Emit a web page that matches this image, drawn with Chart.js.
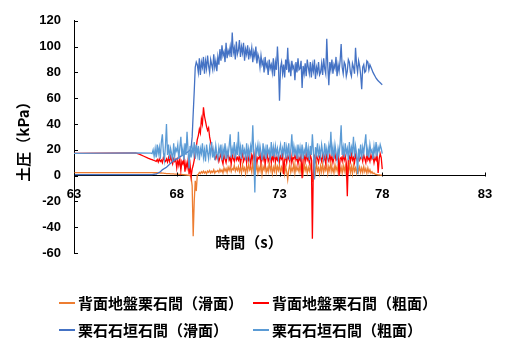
<!DOCTYPE html>
<html>
<head>
<meta charset="utf-8">
<script src="https://cdn.jsdelivr.net/npm/chart.js@4"></script>
<style>
  html, body { margin: 0; padding: 0; background: #fff; }
  #wrap { position: relative; width: 506px; height: 338px; }
  #legend { position: absolute; left: 0; top: 0; width: 506px; height: 338px; pointer-events: none;
            font: bold 15px "Noto Sans CJK JP", sans-serif; color: #000; }
  .item { position: absolute; display: flex; align-items: center; white-space: nowrap; height: 20px; line-height: 20px; }
  .sw { display: inline-block; width: 16px; height: 1.5px; margin-right: 3px; }
</style>
</head>
<body>
<div id="wrap">
  <canvas id="c"></canvas>
  <div id="legend"></div>
</div>
<script>
// Axis ticks and titles
const xTicks = [63, 68, 73, 78, 83];
const yTicks = [-60, -40, -20, 0, 20, 40, 60, 80, 100, 120];
const xTitle = '時間（s）';
const yTitle = '土圧（kPa）';

// Series names
const seriesNames = ['背面地盤栗石間（滑面）', '背面地盤栗石間（粗面）', '栗石石垣石間（滑面）', '栗石石垣石間（粗面）'];

// Quiet record before shaking: [time s], [kPa]
const leadTimeBackSmooth = [63, 66.75];
const leadBackSmooth = [2.3, 2.3];
const leadTimeBackRough = [63, 66.0, 66.2, 66.4, 66.6, 66.75];
const leadBackRough = [17.2, 17.6, 16.5, 15, 13.5, 12.6];
const leadTimeWallSmooth = [63, 66.75];
const leadWallSmooth = [0.8, 0.8];
const leadTimeWallRough = [63, 66.0, 66.75];
const leadWallRough = [17.2, 17.6, 17.4];

// Sampled record, 0.05 s interval from 66.8 s to 78.0 s
const sampleStart = 66.8;
const sampleStep = 0.05;

const backSmooth = [
  2.3, 2.3, 2.2, 2.2,
  2.2, 2.2, 2.1, 2.1, 2.0, 2.0, 1.9, 1.9, 1.8, 1.7, 1.6, 1.6, 1.5, 1.5, 1.4, 1.4, 1.3, 1.3, 1.2, 1.2,
  1.1, 1.1, 1.0, 1.0, 0.9, 0.9, 0.8, 0.7, 0.6, 0.5, 0.4, 0.3, 0.2, 0.0, -1.5, -8, -47, -20, -4, -12,
  0.5, 1.0, 2.5, 1.5, 3.0, 2.0, 3.5, 2.0, 3.0, 1.5, 3.5, 2.5, 4.0, 2.0, 3.5, 2.5, 4.5, 2.0, 3.5, 3.0,
  4.0, 2.5, 5.0, 3.0, 4.5, 2.0, 6.0, 3.5, 5.5, 2.5, 6.5, 4.0, 7.0, 3.0, 5.5, 4.5, 8.0, 3.5, 6.0, 4.0,
  7.0, 3.0, 6.5, 2.0, 8.5, 4.0, 6.0, 1.5, 7.5, 3.5, 9.0, 4.5, 6.5, 2.5, 10.5, 3.0, 7.0, 4.0, 8.0, 2.0,
  6.5, 3.5, 9.0, 1.0, 7.0, 4.5, 8.5, 2.5, 6.0, 3.0, 10.0, 4.0, 7.5, 1.5, 6.5, 3.5, 9.5, 2.5, 7.0, 4.0,
  8.0, 2.0, 6.5, 3.5, 9.0, 1.5, 7.0, 3.0, -3.0, 4.5, 8.5, 2.5, 6.0, 3.5, 10.0, 2.0, 7.5, 4.0, 6.0, 3.0,
  8.5, 2.5, 6.0, 1.5, 9.0, 4.0, 7.0, 2.0, 6.5, 3.5, 8.0, 3.0, -5.0, 4.5, 7.5, 2.0, 9.5, 3.5, 6.0, 1.5,
  7.5, 3.0, 9.0, 2.5, 6.5, 4.0, 8.0, 1.5, 7.0, 3.5, 10.0, 3.0, 6.0, 2.0, 8.5, 4.0, 7.0, 2.5, 9.0, 3.0,
  6.5, 2.0, 8.0, 3.5, 7.5, 0.5, 6.0, 3.0, 9.0, 2.5, 7.0, 1.5, 8.5, 3.5, 6.0, 2.0, 7.5, 3.0, 6.5, 2.5,
  6.0, 2.5, 7.0, 3.0, 5.5, 2.0, 6.0, 2.5, 4.5, 2.0, 3.0, 1.5, 2.0, 1.2, 1.0, 0.8, 0.6, 0.5, 0.4, 0.4,
  0.3
];

const backRough = [
  12.3, 12, 11.7, 11.4,
  11, 12.5, 10.5, 13, 11, 12, 10, 14, 12, 11, 13, 10.5, 14, 11, 15, 12, 9, 13, 11, 12.5,
  6, 12, 8, 13, 4, 11, 9, 13, 3, 10, 6, 12, 1, 8, -1, 5, 8, 12, 18, 22,
  28, 31, 36, 33, 44, 40, 53, 46, 42, 38, 35, 37, 30, 26, 22, 19, 17, 15, 13, 16,
  15, 11, 14, 17, 12, 9, 16, 13, 10, 15, 18, 12, 14, 9, 16, 13, 11, 17, 12, 14,
  12, 16, 9, 14, 17, 11, 13, 15, 10, 17, 12, 14, 9, 16, 13, 18, 11, 15, 10, 14,
  13, 17, 10, 15, 12, 16, 9, 14, 17, 11, 13, 16, 10, 15, 12, 18, 11, 14, 12, 16,
  11, 15, 13, 17, 1, 12, 15, 10, 16, 13, 11, 17, 10, 14, 13, 16, 12, 15, 9, 14,
  12, 16, -2, 13, 15, 11, 17, 12, 14, 10, 16, 13, -49, 12, 15, 11, 16, 13, 10, 15,
  14, 11, 16, 12, 15, 9, 17, 13, 11, 16, 12, 15, 10, 14, 17, 12, 13, 16, 0, 13,
  14, 11, 16, 12, 15, 10, -16, 13, 15, 11, 17, 12, 14, 10, 16, 13, 11, 15, 12, 14,
  15, 11, 16, 13, 10, 17, 12, 14, 11, 16, 13, 15, 10, 14, 12, 16, 2, 13, 17, 14,
  5
];

const wallSmooth = [
  0.8, 0.9, 1.0, 1.1,
  1.2, 1.6, 2.0, 2.5, 3.0, 3.7, 4.5, 5.0, 5.5, 6.0, 6.5, 7.2, 8.0, 8.7, 9.5, 10.2, 11, 11.5, 12, 12.5,
  13, 13.5, 14, 14.5, 15, 15.5, 16, 16.5, 17, 17.5, 18, 18.5, 19, 20, 22, 30, 48, 65, 84, 88,
  86, 80, 91, 78, 88, 84, 92, 79, 89, 83, 93, 85, 80, 90, 86, 82, 94, 84, 89, 81,
  92, 86, 98, 89, 101, 93, 96, 88, 103, 91, 97, 94, 100, 92, 111, 95, 99, 90, 104, 94,
  97, 105, 92, 100, 95, 103, 89, 98, 94, 101, 90, 97, 93, 99, 88, 96, 92, 100, 87, 94,
  91, 84, 93, 86, 89, 80, 92, 84, 87, 78, 90, 83, 86, 80, 91, 77, 88, 82, 100, 85,
  58, 84, 88, 79, 86, 76, 90, 82, 99, 80, 86, 77, 89, 83, 85, 74, 88, 80, 91, 82,
  83, 89, 68, 85, 79, 87, 77, 90, 84, 79, 88, 76, 86, 81, 90, 75, 84, 80, 88, 78,
  80, 87, 78, 91, 83, 79, 106, 85, 70, 88, 82, 90, 79, 86, 83, 92, 77, 86, 81, 89,
  102, 84, 79, 88, 86, 77, 81, 90, 88, 80, 77, 87, 84, 79, 99, 86, 80, 89, 85, 78,
  67, 84, 86, 80, 81, 89, 88, 82, 86, 84, 82, 80, 78.5, 77, 75.5, 74.5, 73.5, 72.7, 72, 71.2,
  70.5
];

const wallRough = [
  17, 20, 15, 21,
  14, 24, 17, 22, 13, 26, 32, 18, 12, 23, 40, 16, 24, 13, 21, 17, 11, 25, 15, 21,
  19, 24, 13, 22, 30, 15, 21, 12, 25, 16, 34, 20, 5.5, 23, 14, 22, 17, 26, 13, 24,
  16, 23, 12, 21, 17, 25, 14, 20, 11, 24, 18, 13, 22, 16, 26, 14, 20, 12, 23, 17,
  13, 22, 17, 24, 12, 21, 16, 25, 13, 20, 15, 23, 32, 14, 21, 17, 26, 13, 22, 16,
  34, 15, 22, 13, 24, 17, 20, 12, 25, 15, 21, 14, 23, 18, 39, 16, -13, 22, 18, 24,
  15, 23, 18, 12, 25, 16, 21, 13, 24, 17, 20, 12, 26, 15, 22, 14, 23, 17, 21, 13,
  20, 24, 14, 21, 17, 26, 13, 22, 16, 25, 12, 20, 32, 15, 23, 17, 21, 13, 24, 16,
  22, 15, 24, 13, 20, 17, 26, 14, 21, 12, 23, 16, 32, 19, -3, 22, 17, 25, 14, 21,
  15, 24, 18, 13, 25, 16, 21, 14, 23, 17, 34, 15, 22, 13, 24, 18, 12, 21, 16, 25,
  39, 16, 22, 14, 25, 17, 21, 12, 26, 15, 22, 18, 30, 14, 23, 17, 1, 21, 15, 24,
  13, 22, 17, 25, 32, 15, 21, 14, 24, 18, 20, 13, 23, 17, 26, 15, 22, 19, 24, 21,
  17
];

const colors = ['#ED7D31', '#FF0000', '#4472C4', '#5B9BD5'];

function toPoints(leadT, leadV, samples) {
  const pts = leadT.map((t, i) => ({ x: t, y: leadV[i] }));
  samples.forEach((v, i) => pts.push({ x: +(sampleStart + i * sampleStep).toFixed(2), y: v }));
  return pts;
}

const seriesData = [
  toPoints(leadTimeBackSmooth, leadBackSmooth, backSmooth),
  toPoints(leadTimeBackRough, leadBackRough, backRough),
  toPoints(leadTimeWallSmooth, leadWallSmooth, wallSmooth),
  toPoints(leadTimeWallRough, leadWallRough, wallRough)
];

// later series sit on top
const drawOrder = [3, 2, 1, 0];

const datasets = seriesData.map((d, i) => ({
  label: seriesNames[i],
  data: d,
  borderColor: colors[i],
  backgroundColor: colors[i],
  borderWidth: 1.3,
  pointRadius: 0,
  showLine: true,
  tension: 0,
  order: drawOrder[i]
}));

// inward tick marks and axis titles
const axisExtras = {
  id: 'axisExtras',
  afterDraw(chart) {
    const { ctx, scales: { x, y }, chartArea } = chart;
    const y0 = Math.round(y.getPixelForValue(0)) + 0.5;
    ctx.save();
    ctx.strokeStyle = '#000';
    ctx.lineWidth = 1;
    ctx.beginPath();
    xTicks.forEach(v => {
      const px = Math.round(x.getPixelForValue(v)) + 0.5;
      ctx.moveTo(px, y0); ctx.lineTo(px, y0 - 4);
    });
    yTicks.forEach(v => {
      const py = Math.round(y.getPixelForValue(v)) + 0.5;
      ctx.moveTo(chartArea.left, py); ctx.lineTo(chartArea.left + 4, py);
    });
    ctx.stroke();

    ctx.fillStyle = '#000';
    ctx.font = 'bold 15px "Noto Sans CJK JP", sans-serif';
    ctx.textAlign = 'center';
    ctx.textBaseline = 'middle';
    ctx.fillText(xTitle, 249, y.getPixelForValue(-52));
    ctx.translate(23, 138);
    ctx.rotate(-Math.PI / 2);
    ctx.fillText(yTitle, 0, 0);
    ctx.restore();
  }
};

const tickFont = { family: '"Liberation Sans", Arial, sans-serif', size: 13, weight: 'bold' };

new Chart(document.getElementById('c'), {
  type: 'scatter',
  data: { datasets },
  options: {
    responsive: true,
    maintainAspectRatio: false,
    animation: false,
    events: [],
    layout: { padding: { left: 0, top: 17, right: 21, bottom: 85 } },
    plugins: { legend: { display: false }, tooltip: { enabled: false } },
    scales: {
      x: {
        type: 'linear',
        min: 63, max: 83,
        position: { y: 0 },
        afterBuildTicks: s => { s.ticks = xTicks.map(v => ({ value: v })); },
        ticks: { color: '#000', font: tickFont, padding: 11, maxRotation: 0, autoSkip: false },
        grid: { display: false, drawTicks: false },
        border: { display: true, color: '#000', width: 1 }
      },
      y: {
        min: -60, max: 120,
        afterBuildTicks: s => { s.ticks = yTicks.map(v => ({ value: v })); },
        afterFit: s => { s.width = 74; },
        ticks: { color: '#000', font: tickFont, padding: 13 },
        grid: { display: false, drawTicks: false },
        border: { display: true, color: '#000', width: 1 }
      }
    }
  },
  plugins: [axisExtras]
});

// legend in two aligned columns
const legendPos = [[59, 293], [253, 293], [59, 320], [253, 320]];
const legendEl = document.getElementById('legend');
seriesNames.forEach((name, i) => {
  const item = document.createElement('div');
  item.className = 'item';
  item.style.left = legendPos[i][0] + 'px';
  item.style.top = legendPos[i][1] + 'px';
  const sw = document.createElement('span');
  sw.className = 'sw';
  sw.style.background = colors[i];
  const txt = document.createElement('span');
  txt.textContent = name;
  item.appendChild(sw);
  item.appendChild(txt);
  legendEl.appendChild(item);
});
</script>
</body>
</html>
